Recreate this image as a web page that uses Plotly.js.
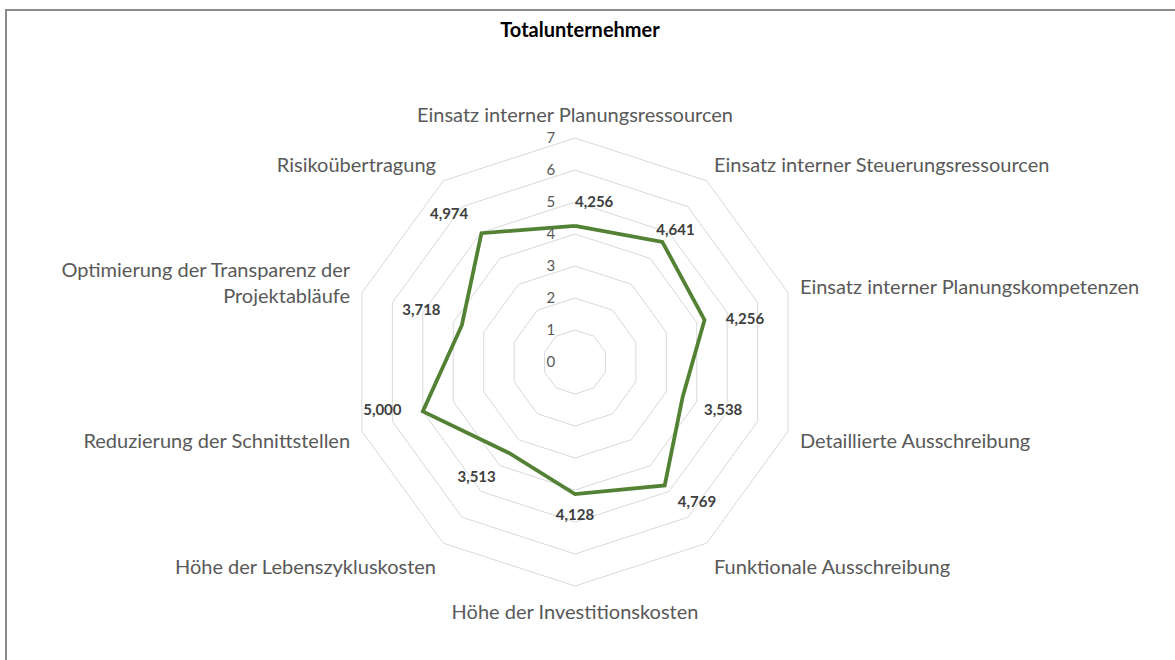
<!DOCTYPE html>
<html>
<head>
<meta charset="utf-8">
<script src="https://cdn.plot.ly/plotly-3.0.1.min.js"></script>
<style>
  html, body { margin: 0; padding: 0; background: #fff; }
  #frame { position: absolute; left: 5px; top: 9px; width: 1200px; height: 700px;
           border-top: 2px solid #8c8c8c; border-left: 2px solid #8c8c8c; pointer-events: none; z-index: 5; }
  #chart { width: 1175px; height: 660px; }
</style>
</head>
<body>
<div id="frame"></div>
<div id="chart"></div>
<script>
const categories = [
  "Einsatz interner Planungsressourcen",
  "Einsatz interner Steuerungsressourcen",
  "Einsatz interner Planungskompetenzen",
  "Detaillierte Ausschreibung",
  "Funktionale Ausschreibung",
  "Höhe der Investitionskosten",
  "Höhe der Lebenszykluskosten",
  "Reduzierung der Schnittstellen",
  "Optimierung der Transparenz der<br>Projektabläufe",
  "Risikoübertragung"
];
const values = [4.256, 4.641, 4.256, 3.538, 4.769, 4.128, 3.513, 5.000, 3.718, 4.974];
const valueLabels = ["4,256", "4,641", "4,256", "3,538", "4,769", "4,128", "3,513", "5,000", "3,718", "4,974"];
const radialTicks = [0, 1, 2, 3, 4, 5, 6, 7];
const labelPositions = ["middle right", "bottom center", "bottom right", "bottom right", "middle right",
                        "middle center", "bottom left", "top left", "top left", "middle left"];
const labelOffset = 0.7;

const FONT = "Lato, 'Open Sans', sans-serif";

const lineTrace = {
  type: "scatterpolar",
  r: values.concat([values[0]]),
  theta: categories.concat([categories[0]]),
  mode: "lines",
  line: { color: "#548235", width: 3.8 },
  hoverinfo: "skip"
};

const labelTrace = {
  type: "scatterpolar",
  r: values.map(v => v + labelOffset),
  theta: categories,
  mode: "text",
  text: valueLabels,
  textposition: labelPositions,
  textfont: { family: FONT, size: 15, color: "#404040", weight: "bold" },
  hoverinfo: "skip",
  cliponaxis: false
};

const layout = {
  width: 1175,
  height: 660,
  margin: { l: 0, r: 0, t: 0, b: 0 },
  paper_bgcolor: "#ffffff",
  showlegend: false,
  font: { family: FONT, color: "#595959" },
  title: {
    text: "<b>Totalunternehmer</b>",
    x: 580 / 1175, xanchor: "center",
    y: 1 - 30 / 660, yanchor: "middle",
    font: { family: FONT, size: 20, color: "#000000" }
  },
  polar: {
    domain: { x: [351 / 1175, 799 / 1175], y: [74 / 660, 522 / 660] },
    bgcolor: "#ffffff",
    gridshape: "linear",
    radialaxis: {
      range: [0, 7],
      tickvals: radialTicks,
      ticktext: radialTicks.map(String),
      angle: 90,
      side: "counterclockwise",
      tickangle: 90,
      showline: false,
      ticks: "outside",
      ticklen: 14,
      tickcolor: "rgba(0,0,0,0)",
      gridcolor: "#d9d9d9",
      gridwidth: 1,
      tickfont: { family: FONT, size: 15, color: "#595959" }
    },
    angularaxis: {
      direction: "clockwise",
      rotation: 90,
      showgrid: false,
      linecolor: "#d9d9d9",
      linewidth: 1,
      ticks: "outside",
      ticklen: 8,
      tickcolor: "rgba(0,0,0,0)",
      tickfont: { family: FONT, size: 20, color: "#595959" }
    }
  }
};

Plotly.newPlot("chart", [lineTrace, labelTrace], layout, { displayModeBar: false, staticPlot: true });
</script>
</body>
</html>
